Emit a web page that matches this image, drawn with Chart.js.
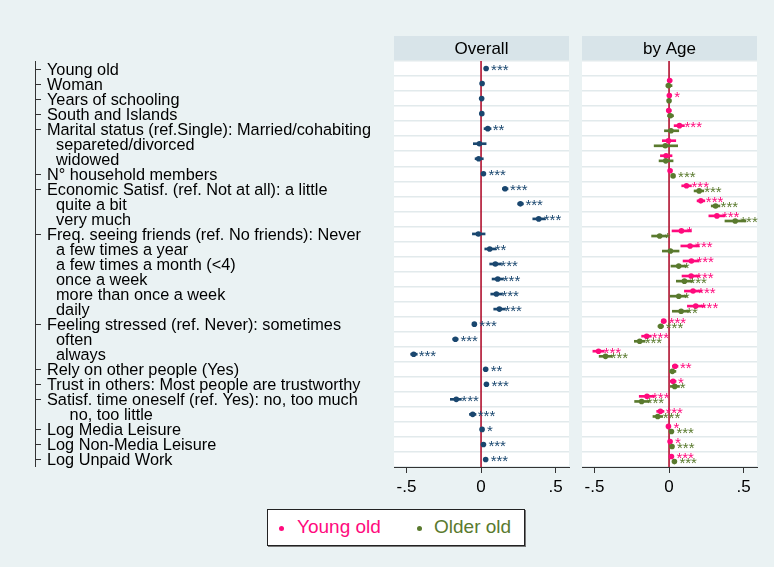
<!DOCTYPE html>
<html>
<head>
<meta charset="utf-8">
<script src="https://cdn.jsdelivr.net/npm/chart.js@4.4.1/dist/chart.umd.min.js"></script>
<style>
  html, body { margin: 0; padding: 0; }
  body { width: 774px; height: 567px; background: #EAF2F3; position: relative; overflow: hidden;
         font-family: "Liberation Sans", Arial, sans-serif; }
  #cOverall { position: absolute; left: 0; top: 0; }
  #cAge { position: absolute; left: 575px; top: 0; }
  #legend { position: absolute; left: 267px; top: 509px; width: 256px; height: 35px;
            background: #fff; border: 1px solid #222; box-shadow: 1px 1px 0 #777; }
  #legend .dot { position: absolute; width: 5px; height: 5px; border-radius: 50%; top: 16px; }
  #legend .txt { position: absolute; top: 6px; font-size: 19px; line-height: 22px; white-space: nowrap; }
</style>
</head>
<body>
<canvas id="cOverall" width="575" height="500"></canvas>
<canvas id="cAge" width="199" height="500"></canvas>
<div id="legend">
  <div class="dot" style="left:11px;background:#FF0A7D"></div>
  <div class="txt" style="left:29px;color:#FF0A7D">Young old</div>
  <div class="dot" style="left:149px;background:#5A7A2E"></div>
  <div class="txt" style="left:166px;color:#5A7A2E">Older old</div>
</div>
<script>
// rows, top to bottom (leading spaces = indented sub-category, no tick)
const rowLabels = [
    'Young old', 'Woman', 'Years of schooling', 'South and Islands',
    'Marital status (ref.Single): Married/cohabiting', '  separeted/divorced', '  widowed',
    'N° household members', 'Economic Satisf. (ref. Not at all): a little', '  quite a bit', '  very much',
    'Freq. seeing friends (ref. No friends): Never', '  a few times a year', '  a few times a month (<4)',
    '  once a week', '  more than once a week', '  daily',
    'Feeling stressed (ref. Never): sometimes', '  often', '  always',
    'Rely on other people (Yes)', 'Trust in others: Most people are trustworthy',
    'Satisf. time oneself (ref. Yes): no, too much', '     no, too little',
    'Log Media Leisure', 'Log Non-Media Leisure', 'Log Unpaid Work'
];
const xTicks = [-0.5, 0, 0.5];
const xTickLabels = ['-.5', '0', '.5'];

// Overall
const overallCoef = [0.034, 0.007, 0.004, 0.005, 0.045, -0.011, -0.016, 0.016, 0.161, 0.264, 0.387,
    -0.018, 0.058, 0.096, 0.112, 0.103, 0.123, -0.045, -0.172, -0.452, 0.031, 0.036, -0.166, -0.056, 0.007, 0.016, 0.031];
const overallLo = [0.026, 0.000, -0.002, -0.002, 0.020, -0.052, -0.040, 0.009, 0.143, 0.246, 0.347,
    -0.058, 0.025, 0.058, 0.074, 0.065, 0.085, -0.053, -0.190, -0.472, 0.022, 0.027, -0.206, -0.078, 0.000, 0.009, 0.024];
const overallHi = [0.042, 0.014, 0.010, 0.012, 0.067, 0.034, 0.015, 0.023, 0.181, 0.284, 0.430,
    0.027, 0.100, 0.136, 0.150, 0.143, 0.163, -0.037, -0.154, -0.428, 0.040, 0.045, -0.132, -0.034, 0.014, 0.023, 0.038];
const overallStars = ['***', '', '', '', '**', '', '', '***', '***', '***', '***',
    '', '**', '***', '***', '***', '***', '***', '***', '***', '**', '***', '***', '***', '*', '***', '***'];

// by Age: Young old
const youngCoef = [null, 0.004, 0.002, -0.002, 0.070, -0.004, -0.020, 0.007, 0.117, 0.213, 0.321,
    0.083, 0.141, 0.150, 0.148, 0.161, 0.179, -0.036, -0.150, -0.473, 0.040, 0.027, -0.148, -0.058, -0.004, 0.007, 0.016];
const youngLo = [null, -0.011, -0.006, -0.016, 0.034, -0.045, -0.058, 0.000, 0.085, 0.188, 0.267,
    0.020, 0.079, 0.094, 0.087, 0.103, 0.123, -0.052, -0.184, -0.511, 0.022, 0.007, -0.200, -0.083, -0.012, -0.001, 0.008];
const youngHi = [null, 0.019, 0.010, 0.014, 0.103, 0.045, 0.020, 0.014, 0.150, 0.240, 0.375,
    0.150, 0.202, 0.202, 0.204, 0.220, 0.240, -0.020, -0.119, -0.435, 0.060, 0.047, -0.099, -0.034, 0.004, 0.015, 0.024];
const youngStars = ['', '', '*', '', '***', '', '', '', '***', '***', '***',
    '*', '***', '***', '***', '***', '***', '***', '***', '***', '**', '*', '***', '***', '*', '*', '***'];

// by Age: Older old
const olderCoef = [null, -0.004, 0.000, 0.009, 0.013, -0.025, -0.022, 0.027, 0.202, 0.312, 0.444,
    -0.063, 0.009, 0.065, 0.103, 0.065, 0.081, -0.056, -0.197, -0.426, 0.022, 0.038, -0.184, -0.076, 0.016, 0.020, 0.036];
const olderLo = [null, -0.020, -0.008, -0.010, -0.031, -0.100, -0.067, 0.019, 0.168, 0.283, 0.375,
    -0.117, -0.045, 0.013, 0.049, 0.007, 0.022, -0.074, -0.233, -0.469, 0.002, 0.009, -0.231, -0.108, 0.008, 0.012, 0.028];
const olderHi = [null, 0.020, 0.008, 0.030, 0.065, 0.058, 0.027, 0.035, 0.233, 0.341, 0.516,
    -0.011, 0.067, 0.119, 0.159, 0.121, 0.137, -0.038, -0.161, -0.383, 0.046, 0.070, -0.132, -0.043, 0.024, 0.028, 0.044];
const olderStars = ['', '', '', '', '', '', '', '***', '***', '***', '***',
    '*', '', '*', '***', '*', '**', '***', '***', '***', '', '*', '***', '***', '***', '***', '***'];

const NAVY = '#1A476F', PINK = '#FF0A7D', GREEN = '#5A7A2E';
const FONT = '"Liberation Sans", Arial, sans-serif';
const GRID = '#E2EAEC';

// white plot, header strip, zero line, significance stars
const panelDecor = {
    id: 'panelDecor',
    beforeDraw: function (chart, args, opts) {
        let ctx = chart.ctx, a = chart.chartArea;
        ctx.save();
        ctx.fillStyle = '#FFFFFF';
        ctx.fillRect(a.left, a.top, a.right - a.left, a.bottom - a.top);
        ctx.fillStyle = '#D8E4E9';
        ctx.fillRect(a.left, a.top - 25, a.right - a.left, 25);
        ctx.fillStyle = '#000';
        ctx.font = '17px ' + FONT;
        ctx.textAlign = 'center';
        ctx.textBaseline = 'middle';
        ctx.fillText(opts.title, (a.left + a.right) / 2, a.top - 12);
        ctx.restore();
    },
    beforeDatasetsDraw: function (chart) {
        let ctx = chart.ctx, a = chart.chartArea;
        let zx = chart.scales.x.getPixelForValue(0);
        ctx.save();
        ctx.strokeStyle = '#B0102E';
        ctx.lineWidth = 1.6;
        ctx.beginPath();
        ctx.moveTo(zx, a.top);
        ctx.lineTo(zx, a.bottom);
        ctx.stroke();
        ctx.restore();
    },
    afterDatasetsDraw: function (chart) {
        let ctx = chart.ctx, a = chart.chartArea;
        ctx.save();
        ctx.beginPath();
        ctx.rect(a.left, a.top - 4, a.right - a.left + 2, a.bottom - a.top + 4);
        ctx.clip();
        ctx.font = '15px ' + FONT;
        ctx.textAlign = 'left';
        ctx.textBaseline = 'alphabetic';
        chart.data.datasets.forEach((ds, i) => {
            if (ds.type !== 'scatter') return;
            let meta = chart.getDatasetMeta(i);
            ctx.fillStyle = ds.backgroundColor;
            meta.data.forEach((pt, j) => {
                let s = ds.data[j].s;
                if (s) ctx.fillText(s, pt.x + 5, pt.y + 6.5);
            });
        });
        ctx.restore();
    }
};

// left axis line with ticks on the main (non-indented) rows
const leftAxis = {
    id: 'leftAxis',
    afterDraw: function (chart) {
        let ctx = chart.ctx, a = chart.chartArea, y = chart.scales.y;
        ctx.save();
        ctx.strokeStyle = '#333';
        ctx.lineWidth = 1;
        ctx.beginPath();
        ctx.moveTo(35.5, a.top);
        ctx.lineTo(35.5, a.bottom);
        rowLabels.forEach((lab, i) => {
            if (lab.startsWith(' ')) return;
            let py = Math.round(y.getPixelForTick(i)) + 0.5;
            ctx.moveTo(35.5, py);
            ctx.lineTo(41, py);
        });
        ctx.stroke();
        ctx.restore();
    }
};

function xAxis() {
    return {
        type: 'linear',
        min: -0.584,
        max: 0.59,
        offset: false,
        afterBuildTicks: s => { s.ticks = xTicks.map(v => ({ value: v })); },
        afterFit: s => { s.height = 33; },
        grid: { offset: false, drawOnChartArea: false, drawTicks: true, tickLength: 6, color: '#333', lineWidth: 1 },
        border: { display: true, color: '#333', width: 1 },
        ticks: {
            padding: 4,
            color: '#000',
            font: { family: FONT, size: 17 },
            callback: v => xTickLabels[xTicks.indexOf(v)]
        }
    };
}

function ciData(lo, hi, offset) {
    let out = [];
    lo.forEach((l, i) => {
        if (l === null) return;
        out.push({ x: [l, hi[i]], y: offset === null ? rowLabels[i] : i + offset });
    });
    return out;
}

function pointData(coef, stars, offset) {
    let out = [];
    coef.forEach((c, i) => {
        if (c === null) return;
        out.push({ x: c, y: offset === null ? rowLabels[i] : i + offset, s: stars[i] });
    });
    return out;
}

function ciSet(data, color) {
    return { type: 'bar', indexAxis: 'y', data: data, backgroundColor: color,
             barThickness: 2, grouped: false, borderWidth: 0 };
}

function pointSet(data, color) {
    return { type: 'scatter', data: data, backgroundColor: color, borderWidth: 0,
             pointRadius: 2.8, pointStyle: 'circle' };
}

const common = {
    responsive: false,
    animation: false,
    events: [],
    indexAxis: 'y'
};

new Chart(document.getElementById('cOverall'), {
    type: 'bar',
    data: {
        labels: rowLabels,
        datasets: [
            ciSet(ciData(overallLo, overallHi, null), NAVY),
            pointSet(pointData(overallCoef, overallStars, null), NAVY)
        ]
    },
    options: Object.assign({}, common, {
        layout: { padding: { left: 47, top: 61, right: 6, bottom: 0 } },
        plugins: { legend: { display: false }, tooltip: { enabled: false }, panelDecor: { title: 'Overall' } },
        scales: {
            x: xAxis(),
            y: {
                type: 'category',
                labels: rowLabels,
                offset: true,
                afterFit: s => { s.width = 347; },
                grid: { offset: true, drawTicks: false, color: GRID, lineWidth: 1.5 },
                border: { display: false },
                ticks: {
                    autoSkip: false,
                    crossAlign: 'far',
                    padding: 0,
                    labelOffset: 1.5,
                    color: '#000',
                    font: { family: FONT, size: 16.3, lineHeight: 1 }
                }
            }
        }
    }),
    plugins: [panelDecor, leftAxis]
});

new Chart(document.getElementById('cAge'), {
    type: 'bar',
    data: {
        datasets: [
            ciSet(ciData(olderLo, olderHi, 0.14), GREEN),
            ciSet(ciData(youngLo, youngHi, -0.2), PINK),
            pointSet(pointData(olderCoef, olderStars, 0.14), GREEN),
            pointSet(pointData(youngCoef, youngStars, -0.2), PINK)
        ]
    },
    options: Object.assign({}, common, {
        layout: { padding: { left: 7, top: 61, right: 17, bottom: 0 } },
        plugins: { legend: { display: false }, tooltip: { enabled: false }, panelDecor: { title: 'by Age' } },
        scales: {
            x: xAxis(),
            y: {
                type: 'linear',
                reverse: true,
                offset: false,
                min: -0.5,
                max: rowLabels.length - 0.5,
                afterBuildTicks: s => { s.ticks = rowLabels.concat(['']).map((_, i) => ({ value: i - 0.5 })); },
                afterFit: s => { s.width = 0; },
                grid: { offset: false, drawTicks: false, color: GRID, lineWidth: 1.5 },
                border: { display: false },
                ticks: { display: false }
            }
        }
    }),
    plugins: [panelDecor]
});
</script>
</body>
</html>
